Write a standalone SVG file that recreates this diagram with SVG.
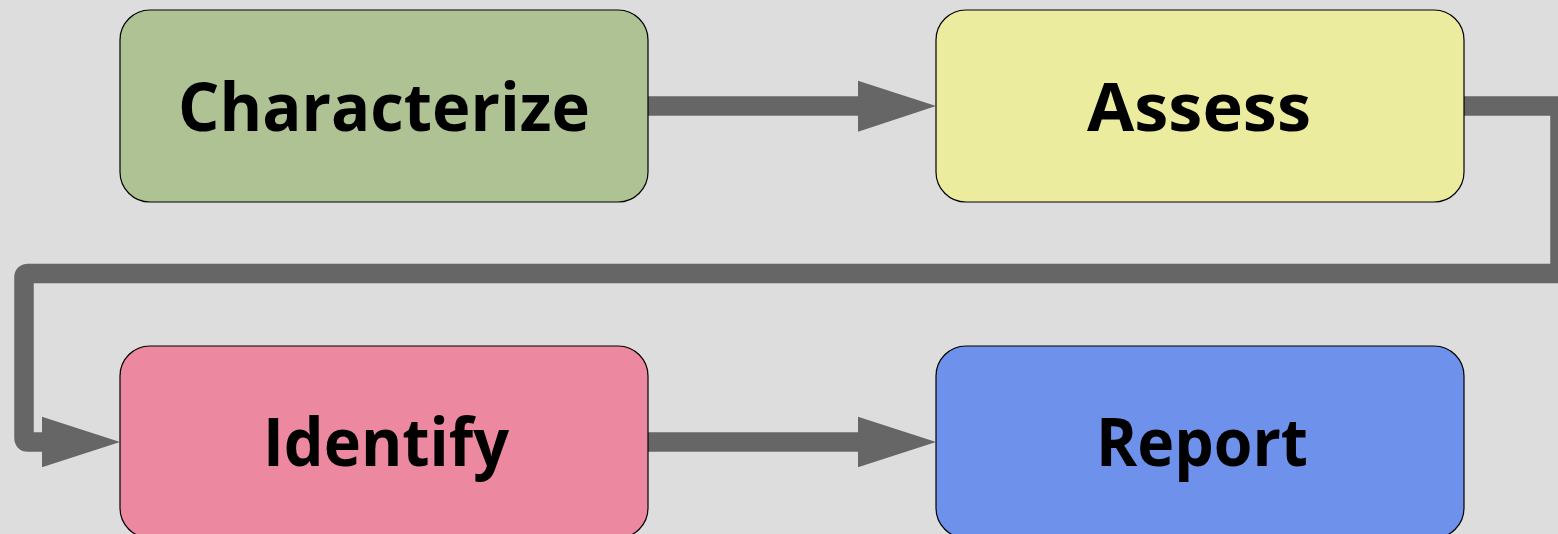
<svg xmlns="http://www.w3.org/2000/svg" width="1558" height="534" viewBox="0 0 1558 534">
<style>
.box{stroke:#000;stroke-width:1.2}
.lbl{font-family:"Open Sans","DejaVu Sans",sans-serif;font-weight:bold;font-size:66px;fill:#000;text-anchor:middle}
.ln{fill:none;stroke:#666666;stroke-width:19.5;stroke-linejoin:miter}
.hd{fill:#666666}
</style>
<rect width="1558" height="534" fill="#dddddd"/>
<g id="connectors">
<path class="ln" d="M648,106 H860"/>
<polygon class="hd" points="858,80.7 936,106 858,131.7"/>
<path class="ln" d="M1464,106 H1560 V273.5 H28 Q24,273.5 24,277.5 V438 Q24,442 28,442 H44"/>
<polygon class="hd" points="42,416.7 120,442 42,467.3"/>
<path class="ln" d="M648,442 H860"/>
<polygon class="hd" points="858,416.7 936,442 858,467.3"/>
</g>
<g id="characterize">
<rect class="box" x="120" y="10" width="528" height="192" rx="30" fill="#aec294"/>
<text class="lbl" x="384" y="131" textLength="412" lengthAdjust="spacingAndGlyphs">Characterize</text>
</g>
<g id="assess">
<rect class="box" x="936" y="10" width="528" height="192" rx="30" fill="#ecec9f"/>
<text class="lbl" x="1199" y="131" textLength="224" lengthAdjust="spacingAndGlyphs">Assess</text>
</g>
<g id="identify">
<rect class="box" x="120" y="346" width="528" height="192" rx="30" fill="#ec88a0"/>
<text class="lbl" x="386" y="466" textLength="246" lengthAdjust="spacingAndGlyphs">Identify</text>
</g>
<g id="report">
<rect class="box" x="936" y="346" width="528" height="192" rx="30" fill="#6e91ec"/>
<text class="lbl" x="1202" y="466" textLength="212" lengthAdjust="spacingAndGlyphs">Report</text>
</g>
</svg>
